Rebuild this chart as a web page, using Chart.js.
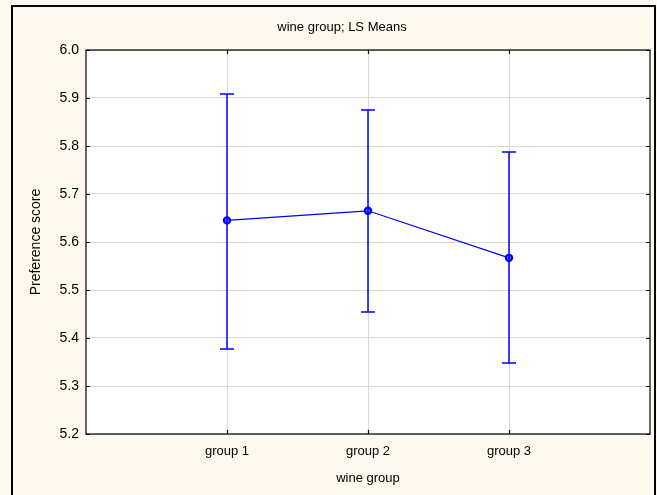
<!DOCTYPE html>
<html>
<head>
<meta charset="utf-8">
<script src="https://cdn.jsdelivr.net/npm/chart.js@4"></script>
<style>
  html, body { margin: 0; padding: 0; background: #fdf9ef; }
  #wrap { width: 657px; height: 495px; }
</style>
</head>
<body>
<div id="wrap"><canvas id="chart-lsmeans"></canvas></div>
<script>
// LS means per wine group, with upper/lower confidence limits
const groups = ['group 1', 'group 2', 'group 3'];
const means = [5.645, 5.665, 5.567];
const upper = [5.909, 5.875, 5.788];
const lower = [5.378, 5.454, 5.348];
const yMin = 5.2, yMax = 6.0, yStep = 0.1;

const FONT = 'Arial, "Liberation Sans", sans-serif';

// cream background, outer frame, plot frame, title
const framePlugin = {
    id: 'frame',
    beforeDraw(chart) {
        const ctx = chart.ctx;
        const a = chart.chartArea;
        ctx.save();
        ctx.fillStyle = '#fdf9ef';
        ctx.fillRect(0, 0, chart.width, chart.height);
        ctx.fillStyle = '#ffffff';
        ctx.fillRect(a.left, a.top, a.right - a.left, a.bottom - a.top);
        ctx.strokeStyle = '#000';
        ctx.lineWidth = 2;
        ctx.strokeRect(12, 6, 643, 495);
        ctx.fillStyle = '#000';
        ctx.font = '13px ' + FONT;
        ctx.textAlign = 'center';
        ctx.textBaseline = 'middle';
        ctx.fillText('wine group; LS Means', 342, 27);
        ctx.restore();
    },
    afterDatasetsDraw(chart) {
        const ctx = chart.ctx;
        const a = chart.chartArea;
        const xs = chart.scales.x, ys = chart.scales.y;
        ctx.save();
        // error bars
        ctx.strokeStyle = '#0000ff';
        ctx.lineWidth = 1.5;
        groups.forEach((g, i) => {
            const px = Math.round(xs.getPixelForValue(i + 1));
            const pt = Math.round(ys.getPixelForValue(upper[i]));
            const pb = Math.round(ys.getPixelForValue(lower[i]));
            ctx.beginPath();
            ctx.moveTo(px, pt); ctx.lineTo(px, pb);
            ctx.moveTo(px - 7, pt); ctx.lineTo(px + 7, pt);
            ctx.moveTo(px - 7, pb); ctx.lineTo(px + 7, pb);
            ctx.stroke();
        });
        // plot frame with inner tick marks
        ctx.strokeStyle = '#000';
        ctx.lineWidth = 1.2;
        ctx.strokeRect(a.left, a.top, a.right - a.left, a.bottom - a.top);
        ctx.beginPath();
        xs.ticks.forEach(t => {
            const px = Math.round(xs.getPixelForValue(t.value)) + 0.5;
            ctx.moveTo(px, a.top); ctx.lineTo(px, a.top + 4);
            ctx.moveTo(px, a.bottom); ctx.lineTo(px, a.bottom - 4);
        });
        ys.ticks.forEach(t => {
            const py = Math.round(ys.getPixelForValue(t.value)) + 0.5;
            ctx.moveTo(a.right, py); ctx.lineTo(a.right - 4, py);
            ctx.moveTo(a.left, py); ctx.lineTo(a.left + 4, py);
        });
        ctx.stroke();
        ctx.restore();
    }
};

const ctx = document.getElementById('chart-lsmeans').getContext('2d');
new Chart(ctx, {
    type: 'line',
    data: {
        datasets: [{
            label: 'LS Means',
            data: means.map((m, i) => ({ x: i + 1, y: m })),
            borderColor: '#0000ff',
            borderWidth: 1.2,
            pointRadius: 3.2,
            pointBorderWidth: 2,
            pointBackgroundColor: '#6060ff',
            pointBorderColor: '#0000ff',
            tension: 0
        }]
    },
    options: {
        responsive: true,
        maintainAspectRatio: false,
        animation: false,
        layout: { padding: { top: 50, right: 7, left: 0, bottom: 0 } },
        plugins: {
            legend: { display: false },
            tooltip: { enabled: false },
            title: { display: false }
        },
        scales: {
            x: {
                type: 'linear',
                min: 0,
                max: 4,
                afterBuildTicks: scale => {
                    scale.ticks = groups.map((g, i) => ({ value: i + 1 }));
                },
                afterFit: scale => { scale.height = 61; },
                grid: { color: '#d8d8d8', lineWidth: 1, drawTicks: false },
                border: { display: false },
                ticks: {
                    color: '#000',
                    padding: 10,
                    maxRotation: 0,
                    font: { family: FONT, size: 13 },
                    callback: v => groups[v - 1] || ''
                },
                title: {
                    display: true,
                    text: 'wine group',
                    color: '#000',
                    font: { family: FONT, size: 13 },
                    padding: { top: 0, bottom: 9 }
                }
            },
            y: {
                min: yMin,
                max: yMax,
                afterFit: scale => { scale.width = 86; },
                grid: { color: '#d8d8d8', lineWidth: 1, drawTicks: false },
                border: { display: false },
                ticks: {
                    stepSize: yStep,
                    color: '#000',
                    padding: 7,
                    font: { family: FONT, size: 14 },
                    callback: v => v.toFixed(1)
                },
                title: {
                    display: true,
                    text: 'Preference score',
                    color: '#000',
                    font: { family: FONT, size: 14 },
                    padding: { top: 28, bottom: 0 }
                }
            }
        }
    },
    plugins: [framePlugin]
});
</script>
</body>
</html>
